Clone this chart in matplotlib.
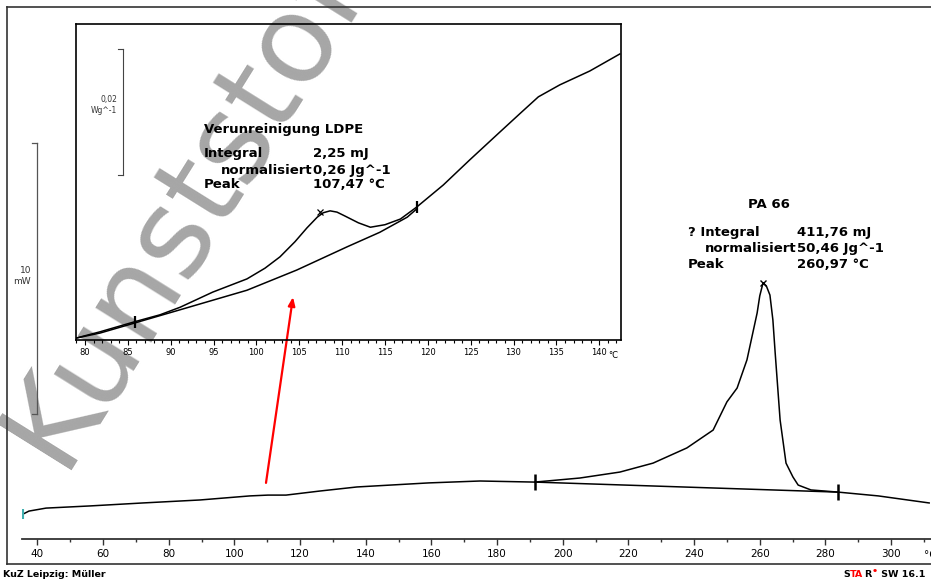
import matplotlib.pyplot as plt
from matplotlib.lines import Line2D
from matplotlib.ticker import MultipleLocator

# PA 66 DSC curve, main view (deg C, mW)
main_t = [35.6, 37.4, 42.6, 56.0, 72.1, 89.5, 104.7, 110.2, 115.7, 126.0, 137.3,
          159.2, 174.8, 191.5, 205.2, 217.4, 227.5, 237.8, 245.8, 250.0, 253.1,
          256.1, 259.2, 260.0, 261.0, 262.0, 263.1, 264.0, 264.7, 266.2, 268.0,
          270.1, 271.7, 275.6, 283.9, 296.1, 311.6]
main_mw = [0.92, 1.03, 1.14, 1.22, 1.33, 1.44, 1.59, 1.62, 1.62, 1.77, 1.92,
           2.07, 2.14, 2.10, 2.25, 2.47, 2.80, 3.36, 4.02, 5.06, 5.57,
           6.61, 8.34, 8.97, 9.45, 9.34, 9.00, 8.08, 6.86, 4.39, 2.80,
           2.29, 1.99, 1.81, 1.73, 1.59, 1.33]
main_base_t = [191.5, 283.9]
main_base_mw = [2.10, 1.73]
main_peak = (260.97, 9.45)

# zoomed view, LDPE impurity (deg C, W/g)
ins_t = [78.95, 81.75, 85.8, 88.75, 91.1, 94.9, 98.9, 101.0, 102.75, 104.5, 105.9,
         107.1, 107.8, 108.6, 109.4, 110.3, 111.9, 113.3, 115.0, 116.8, 118.7,
         121.8, 124.9, 128.4, 130.8, 132.9, 135.4, 138.9, 142.4]
ins_w = [0.0003, 0.0013, 0.0029, 0.0040, 0.0052, 0.0076, 0.0097, 0.0114, 0.0132,
         0.0156, 0.0178, 0.0195, 0.0202, 0.0205, 0.0203, 0.0197, 0.0186, 0.0179,
         0.0183, 0.0192, 0.0211, 0.0246, 0.0286, 0.0330, 0.0360, 0.0386, 0.0405,
         0.0427, 0.0454]
ins_base_t = [78.95, 81.75, 85.8, 91.1, 98.9, 104.7, 110.6, 114.4, 117.6, 118.7]
ins_base_w = [0.0003, 0.0011, 0.0027, 0.0048, 0.0079, 0.0111, 0.0148, 0.0171, 0.0195, 0.0208]
ins_peak = (107.47, 0.0203)

W, H = 931, 581
def fx(px):
    return px / W
def fy(py):
    return 1 - py / H

fig = plt.figure(figsize=(9.31, 5.81), dpi=100)

# outer frame
for xs, ys in [([7, 931], [7, 7]), ([7, 7], [7, 564]), ([7, 931], [564, 564])]:
    fig.add_artist(Line2D([fx(v) for v in xs], [fy(v) for v in ys], color='#333333', lw=1.2))

# watermark (behind the plots)
fig.text(fx(60), fy(470), 'Kunststoff-Zentrum', fontsize=88, rotation=58, rotation_mode='anchor',
         color='#a6a6a6', ha='left', va='baseline', zorder=-1)

# main axes
ax = fig.add_axes([fx(22), fy(539), fx(931) - fx(22), fy(7) - fy(539)])
ax.set_zorder(0)
ax.patch.set_alpha(0)
ax.plot(main_t, main_mw, color='black', lw=1.1)
ax.plot(main_base_t, main_base_mw, color='black', lw=1.1)
ax.plot(main_base_t, main_base_mw, ls='none', marker='|', ms=11, mew=1.8, color='black')
ax.plot([main_peak[0]], [main_peak[1]], ls='none', marker='x', ms=4, mew=1, color='black')
ax.plot([main_t[0]], [main_mw[0]], ls='none', marker='|', ms=7, mew=1.5, color='#3fb0b0')
ax.set_xlim(35.28, 312.16)
ax.set_ylim(0, 19.63)
for s in ['left', 'top', 'right']:
    ax.spines[s].set_visible(False)
ax.spines['bottom'].set_color('#333333')
ax.spines['bottom'].set_linewidth(1.3)
ax.set_yticks([])
ax.xaxis.set_minor_locator(MultipleLocator(10))
ax.set_xticks(range(40, 301, 20))
ax.tick_params(axis='x', which='major', length=4.5, width=1, labelsize=7.5, pad=3, colors='#333333', labelcolor='black')
ax.tick_params(axis='x', which='minor', length=2.5, width=1, colors='#333333')
fig.text(fx(924), fy(555), '°C', fontsize=7.5, va='center', ha='left')

# scale bar 10 mW
sb_t = 39.85
ax.plot([sb_t, sb_t], [4.61, 14.61], color='#555555', lw=0.9)
ax.plot([sb_t - 1.5, sb_t], [4.61, 4.61], color='#555555', lw=0.9)
ax.plot([sb_t - 1.5, sb_t], [14.61, 14.61], color='#555555', lw=0.9)
fig.text(fx(31), fy(276), '10\nmW', fontsize=6.5, ha='right', va='center', multialignment='right', color='#333333')

# red arrow to zoomed view
ax.annotate('', xy=(fx(293), fy(297)), xycoords='figure fraction',
            xytext=(109.6, 2.07), textcoords='data',
            arrowprops=dict(arrowstyle='-|>,head_length=0.5,head_width=0.2', color='red', lw=1.6,
                            shrinkA=0, shrinkB=0))

# inset axes
axin = fig.add_axes([fx(76), fy(340), fx(621) - fx(76), fy(24) - fy(340)])
axin.set_zorder(1)
axin.patch.set_alpha(0)
axin.plot(ins_t, ins_w, color='black', lw=1.1)
axin.plot(ins_base_t, ins_base_w, color='black', lw=1.1)
axin.plot([ins_t[2], ins_t[20]], [ins_w[2], ins_w[20]], ls='none', marker='|', ms=9, mew=1.6, color='black')
axin.plot([ins_peak[0]], [ins_peak[1]], ls='none', marker='x', ms=4, mew=0.9, color='black')
axin.set_xlim(78.95, 142.54)
axin.set_ylim(0, 0.05016)
axin.set_yticks([])
axin.set_xticks(range(80, 141, 5))
axin.xaxis.set_minor_locator(MultipleLocator(1))
for s in axin.spines.values():
    s.set_linewidth(1.2)
axin.tick_params(axis='x', which='major', length=3.5, width=0.8, labelsize=6, pad=2.5)
axin.tick_params(axis='x', which='minor', length=2, width=0.8)
fig.text(fx(608), fy(355), '°C', fontsize=6, va='center', ha='left')

# scale bar 0,02 Wg^-1
sb2 = 84.43
axin.plot([sb2, sb2], [0.0262, 0.0462], color='#444444', lw=0.8)
axin.plot([sb2 - 0.6, sb2], [0.0262, 0.0262], color='#444444', lw=0.8)
axin.plot([sb2 - 0.6, sb2], [0.0462, 0.0462], color='#444444', lw=0.8)
fig.text(fx(117), fy(105), '0,02\nWg^-1', fontsize=5.5, ha='right', va='center', multialignment='right', color='#333333')

# annotations
tk = dict(fontsize=9.5, fontweight='bold', color='black', zorder=5, va='baseline')
fig.text(fx(204), fy(133), 'Verunreinigung LDPE', **tk)
fig.text(fx(204), fy(157), 'Integral', **tk)
fig.text(fx(313), fy(157), '2,25 mJ', **tk)
fig.text(fx(312), fy(174), 'normalisiert', ha='right', **tk)
fig.text(fx(313), fy(174), '0,26 Jg^-1', **tk)
fig.text(fx(204), fy(188), 'Peak', **tk)
fig.text(fx(313), fy(188), '107,47 °C', **tk)

fig.text(fx(748), fy(208), 'PA 66', **tk)
fig.text(fx(688), fy(236), '? Integral', **tk)
fig.text(fx(797), fy(236), '411,76 mJ', **tk)
fig.text(fx(796), fy(252), 'normalisiert', ha='right', **tk)
fig.text(fx(797), fy(252), '50,46 Jg^-1', **tk)
fig.text(fx(688), fy(268), 'Peak', **tk)
fig.text(fx(797), fy(268), '260,97 °C', **tk)

# footer
ft = dict(fontsize=6.8, fontweight='bold', va='baseline', zorder=5)
fig.text(fx(3), fy(577), 'KuZ Leipzig: Müller', color='black', **ft)
renderer = fig.canvas.get_renderer()
xpos = 843
for s, c, dy in [('S', 'black', 0), ('TA', 'red', 0), ('R', 'black', 0), ('•', 'red', -3), (' SW 16.1', 'black', 0)]:
    t = fig.text(fx(xpos), fy(577 + dy), s, color=c, **ft)
    xpos += t.get_window_extent(renderer).width + 0.5

fig.savefig('out.png', dpi=100)
